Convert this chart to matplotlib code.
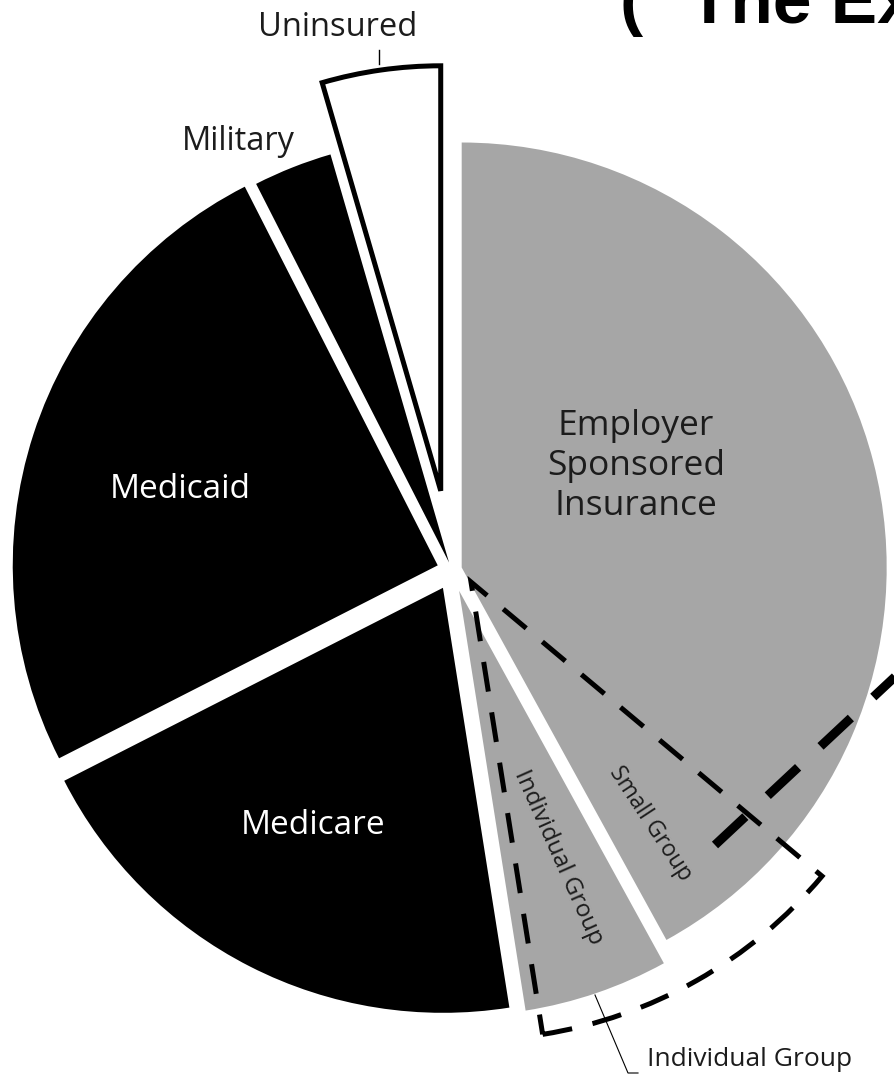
import numpy as np
import matplotlib.pyplot as plt
from matplotlib.patches import Wedge

# Coverage shares (percent), clockwise from 12 o'clock
labels = ['Employer Sponsored Insurance', 'Individual Group', 'Medicare',
          'Medicaid', 'Military', 'Uninsured']
shares = [42.0, 5.5, 20.0, 25.0, 3.0, 4.5]
small_group = 5.9          # part of the employer share sold to small groups
colors = ['#a6a6a6', '#a6a6a6', 'black', 'black', 'black', 'white']
# pie explode is in data units (pixels here)
explode = [10, 22, 20, 15, 8, 80]

W, H = 895, 1088
cx, cy, R = 452, H - 570, 425

plt.rcParams['font.family'] = ['Open Sans', 'DejaVu Sans']

fig = plt.figure(figsize=(W / 100, H / 100), dpi=100)
ax = fig.add_axes([0, 0, 1, 1])

wedges, _ = ax.pie(shares, explode=explode, colors=colors, startangle=90,
                   counterclock=False, center=(cx, cy), radius=R,
                   wedgeprops=dict(linewidth=0))
# uninsured slice is only outlined
wedges[-1].set_edgecolor('black')
wedges[-1].set_linewidth(3.6)

# dashed outline around small group + individual market
total = sum(shares)
a_ind = 90 - 360 * (shares[0] + shares[1]) / total
a_small = 90 - 360 * (shares[0] - small_group) / total
ax.add_patch(Wedge((471, H - 582), 458, a_ind, a_small, fill=False,
                   ec='black', lw=3.6, ls=(0, (6, 4.2)), zorder=5))

# connector toward the exchange detail
ax.plot([715, 960], [H - 845, H - 616], color='black', lw=6.5,
        ls=(0, (4.6, 3.4)), zorder=6)

txt = '#1c1c1c'
ax.text(636, H - 466, 'Employer\nSponsored\nInsurance', ha='center',
        va='center', fontsize=25.5, color=txt, linespacing=1.23)
ax.text(180, H - 490, 'Medicaid', ha='center', va='center', fontsize=24,
        color='white')
ax.text(313, H - 825, 'Medicare', ha='center', va='center', fontsize=24,
        color='white')
ax.text(650, H - 824, 'Small Group', ha='center', va='center', fontsize=16.5,
        color=txt, rotation=-56.7, rotation_mode='anchor')
ax.text(558, H - 857, 'Individual Group', ha='center', va='center',
        fontsize=17.5, color=txt, rotation=-66, rotation_mode='anchor')
ax.text(238, H - 141, 'Military', ha='center', va='center', fontsize=23.5,
        color=txt)
ax.text(338, H - 27, 'Uninsured', ha='center', va='center', fontsize=23.5,
        color=txt)
ax.plot([379, 379], [H - 50, H - 64], color='black', lw=1)

ax.text(647, H - 1059, 'Individual Group', ha='left', va='center',
        fontsize=19, color=txt)
ax.plot([595, 628, 638], [H - 995, H - 1073, H - 1073], color='black', lw=0.8)

ax.text(620, H - 23, '(', ha='left', va='baseline', fontsize=50,
        fontweight='bold', family='Liberation Sans', color='black')
ax.text(688, H - 23, 'The Exchange', ha='left', va='baseline', fontsize=50,
        fontweight='bold', family='Liberation Sans', color='black')

ax.set_xlim(0, W)
ax.set_ylim(0, H)
ax.set_aspect('equal')
ax.axis('off')

fig.savefig('out.png', dpi=100)
